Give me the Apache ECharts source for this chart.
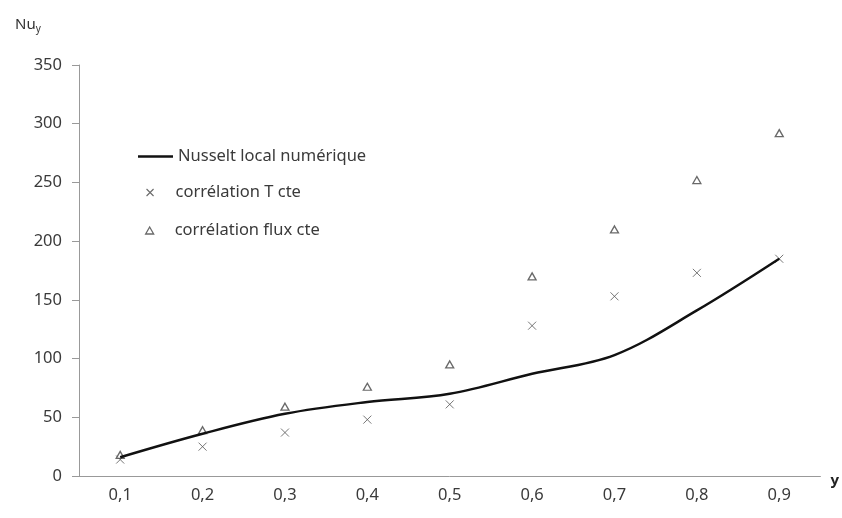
<!DOCTYPE html>
<html><head><meta charset="utf-8">
<script src="https://cdn.jsdelivr.net/npm/echarts@6/dist/echarts.min.js"></script>
<style>html,body{margin:0;padding:0;background:#fff}#c{width:842px;height:518px}</style>
</head><body><div id="c"></div>
<script>
var categories = ['0,1','0,2','0,3','0,4','0,5','0,6','0,7','0,8','0,9'];
var nusseltNum = [16, 36, 53, 63, 70, 87, 103, 141, 185];
var corrT = [14, 25, 37, 48, 61, 128, 153, 173, 185];
var corrFlux = [18, 39, 59, 76, 95, 170, 210, 252, 292];
var yTicks = [0, 350, 50];
var names = ['Nusselt local numérique', 'corrélation T cte', 'corrélation flux cte'];

var FONT = 'Noto Sans';
var FS = 16.5;
var TXT = '#3a3a3a';
var crossPath = 'path://M0,0L10,10M10,0L0,10';
var chart = echarts.init(document.getElementById('c'), null, {renderer: 'canvas'});
var legendText = {fontFamily: FONT, fontSize: FS, color: TXT};
chart.setOption({
  animation: false,
  backgroundColor: '#fff',
  grid: {left: 79, right: 20, top: 65, bottom: 42, containLabel: false},
  legend: [
    {left: 133, top: 143, itemWidth: 35, itemHeight: 2.5, textStyle: legendText,
     data: [{name: names[0], icon: 'rect'}]},
    {left: 141, top: 179, itemWidth: 7, itemHeight: 7, textStyle: Object.assign({padding: [0,0,0,17]}, legendText),
     data: [{name: names[1], icon: crossPath, itemStyle: {color: 'transparent', borderColor: '#444', borderWidth: 1.1}}]},
    {left: 140, top: 217, itemWidth: 8, itemHeight: 7, textStyle: Object.assign({padding: [0,0,0,16]}, legendText),
     data: [{name: names[2], icon: 'triangle', itemStyle: {color: '#fff', borderColor: '#444', borderWidth: 1.3}}]}
  ],
  xAxis: {
    type: 'category', data: categories, boundaryGap: true,
    name: 'y', nameLocation: 'end', nameGap: 10,
    nameTextStyle: {fontFamily: FONT, fontSize: 15, fontWeight: 'bold', color: '#222', verticalAlign: 'top', padding: [-3,0,0,0]},
    axisLine: {lineStyle: {color: '#999', width: 1}},
    axisTick: {show: false},
    axisLabel: {fontFamily: FONT, fontSize: FS, color: TXT, margin: 11},
    splitLine: {show: false}
  },
  yAxis: {
    type: 'value', min: yTicks[0], max: yTicks[1], interval: yTicks[2],
    name: '{a|Nu}{b|y}', nameLocation: 'end', nameGap: 0,
    nameTextStyle: {align: 'left', rich: {
      a: {fontFamily: FONT, fontSize: 15, color: '#333'},
      b: {fontFamily: FONT, fontSize: 10, color: '#333', verticalAlign: 'bottom', padding: [8,0,0,0]}
    }, padding: [0, 0, 31, -64]},
    axisLine: {show: true, lineStyle: {color: '#999', width: 1}},
    axisTick: {show: true, length: 7, lineStyle: {color: '#999'}},
    axisLabel: {fontFamily: FONT, fontSize: FS, color: TXT, margin: 17},
    splitLine: {show: false}
  },
  series: [
    {name: names[0], type: 'line', data: nusseltNum, smooth: 0.35, showSymbol: false, symbol: 'none',
     lineStyle: {color: '#111', width: 2.5}, itemStyle: {color: '#111'}, z: 3},
    {name: names[1], type: 'scatter', data: corrT, symbol: crossPath, symbolSize: 8,
     itemStyle: {color: 'transparent', borderColor: '#555', borderWidth: 1}},
    {name: names[2], type: 'scatter', data: corrFlux, symbol: 'triangle', symbolSize: [8, 7],
     itemStyle: {color: '#fff', borderColor: '#444', borderWidth: 1.3}}
  ]
});
</script></body></html>
